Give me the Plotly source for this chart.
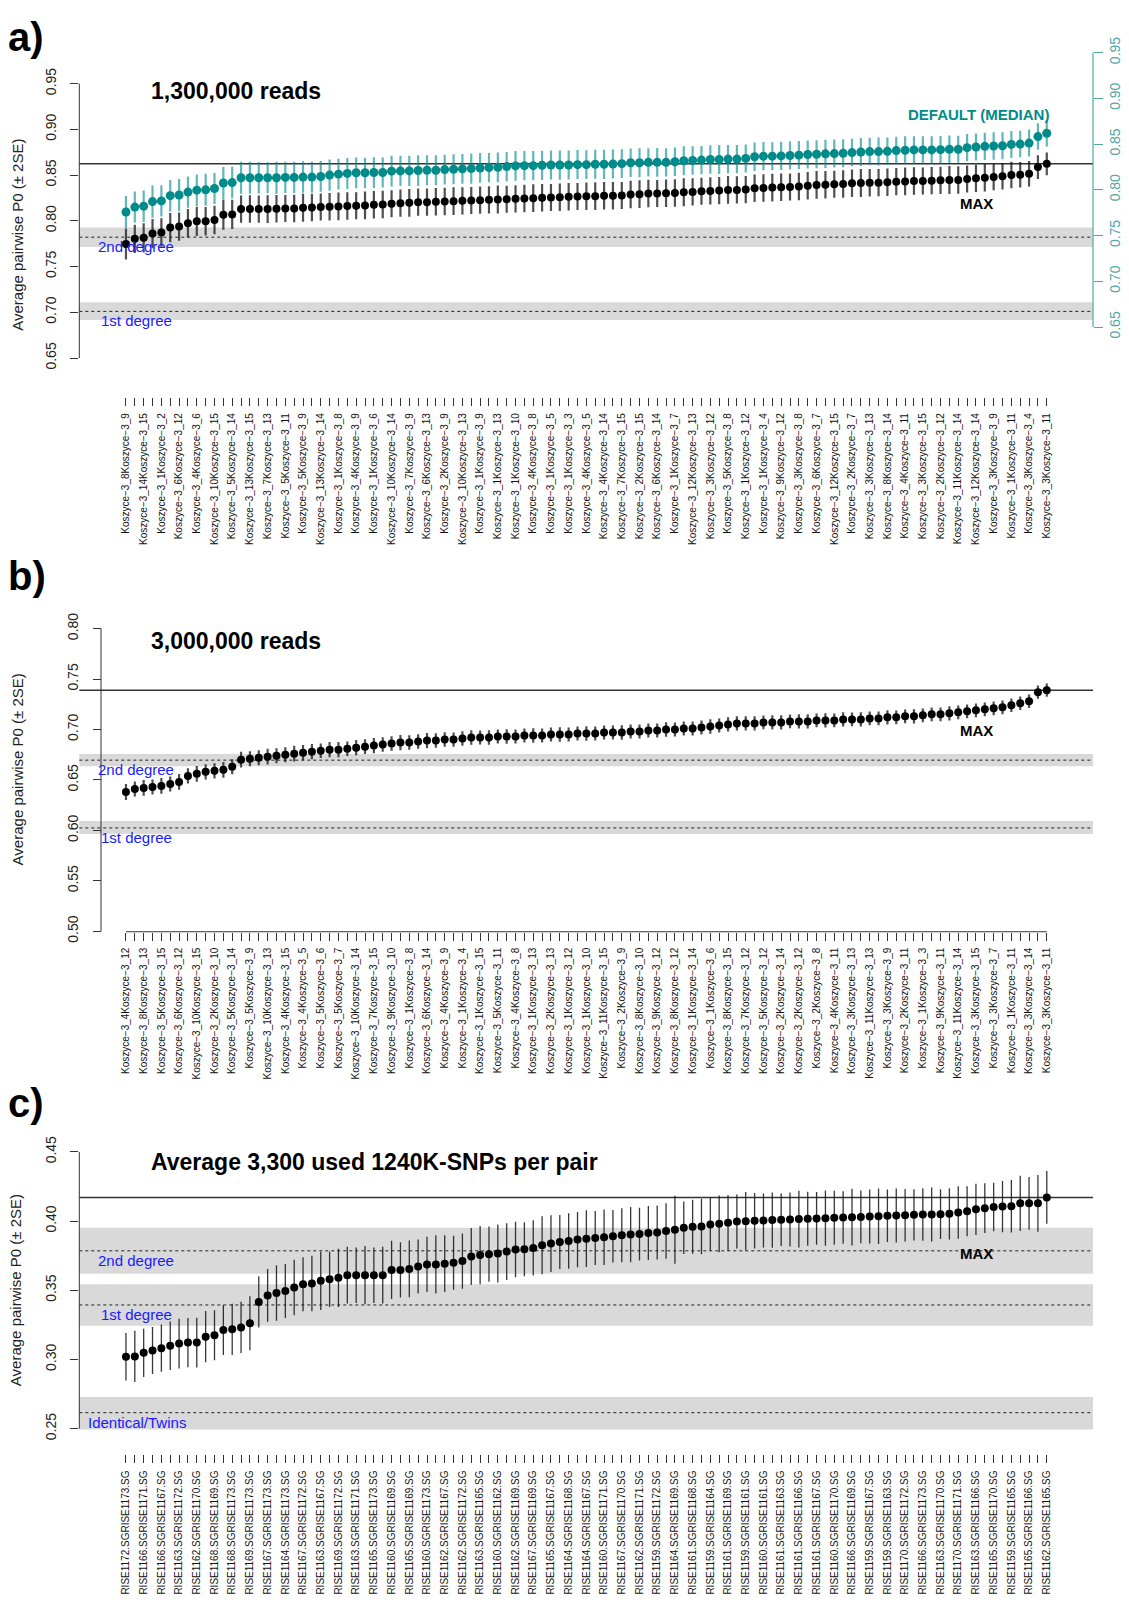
import plotly.graph_objects as go

W, H = 1129, 1604
FONT = "Liberation Sans, Arial, Helvetica, sans-serif"
TEAL = "#008b8b"
TEAL_BAR = "rgba(0,139,139,0.62)"
TEAL_AX = "#52a6a6"
BLACK_BAR = "rgba(20,20,20,0.75)"
BAND = "#d9d9d9"
BLUE = "#1a1aff"
AX = "#333333"

# ---------------- Panel a: 1,300,000 reads ----------------
a_pairs = [(8, 9), (14, 15), (1, 2), (6, 12), (4, 6), (10, 15), (5, 14), (13, 15), (7, 13), (5, 11),
           (5, 9), (13, 14), (1, 8), (4, 9), (1, 6), (10, 14), (7, 9), (6, 13), (2, 9), (10, 13),
           (1, 9), (1, 13), (1, 10), (4, 8), (1, 5), (1, 3), (4, 5), (4, 14), (7, 15), (2, 15),
           (6, 14), (1, 7), (12, 13), (3, 12), (5, 8), (1, 12), (1, 4), (9, 12), (3, 8), (6, 7),
           (12, 15), (2, 7), (3, 13), (8, 14), (4, 11), (3, 15), (2, 12), (11, 14), (12, 14), (3, 9),
           (1, 11), (3, 4), (3, 11)]
a_labels = ["Koszyce−3_%dKoszyce−3_%d" % p for p in a_pairs]

a_max = [0.7746, 0.7803, 0.7814, 0.7861, 0.7872, 0.7926, 0.7937, 0.7973, 0.7995, 0.7995,
         0.8009, 0.8067, 0.8070, 0.8128, 0.8128, 0.8128, 0.8128, 0.8132, 0.8135, 0.8135,
         0.8143, 0.8146, 0.8150, 0.8153, 0.8157, 0.8161, 0.8164, 0.8168, 0.8175, 0.8179,
         0.8186, 0.8193, 0.8197, 0.8204, 0.8204, 0.8208, 0.8211, 0.8215, 0.8218, 0.8222,
         0.8226, 0.8229, 0.8233, 0.8236, 0.8240, 0.8244, 0.8247, 0.8251, 0.8254, 0.8258,
         0.8262, 0.8265, 0.8269, 0.8269, 0.8273, 0.8273, 0.8276, 0.8287, 0.8291, 0.8298,
         0.8298, 0.8301, 0.8305, 0.8312, 0.8316, 0.8323, 0.8327, 0.8330, 0.8338, 0.8338,
         0.8341, 0.8356, 0.8359, 0.8363, 0.8366, 0.8370, 0.8374, 0.8384, 0.8392, 0.8395,
         0.8399, 0.8403, 0.8410, 0.8413, 0.8417, 0.8417, 0.8421, 0.8428, 0.8431, 0.8435,
         0.8435, 0.8439, 0.8442, 0.8446, 0.8446, 0.8457, 0.8464, 0.8471, 0.8478, 0.8486,
         0.8500, 0.8504, 0.8514, 0.8587, 0.8623]
a_max_err = [0.0170, 0.0155, 0.0160, 0.0160, 0.0155, 0.0160, 0.0155, 0.0155, 0.0160, 0.0155,
             0.0155, 0.0165, 0.0160, 0.0148, 0.0150, 0.0148, 0.0152, 0.0150, 0.0148, 0.0150,
             0.0152, 0.0150, 0.0148, 0.0150, 0.0152, 0.0150, 0.0148, 0.0152, 0.0150, 0.0150,
             0.0148, 0.0150, 0.0152, 0.0150, 0.0148, 0.0150, 0.0150, 0.0152, 0.0150, 0.0148,
             0.0150, 0.0150, 0.0152, 0.0148, 0.0150, 0.0150, 0.0152, 0.0150, 0.0148, 0.0150,
             0.0150, 0.0148, 0.0150, 0.0152, 0.0150, 0.0150, 0.0148, 0.0150, 0.0152, 0.0150,
             0.0148, 0.0150, 0.0150, 0.0152, 0.0150, 0.0148, 0.0150, 0.0150, 0.0152, 0.0150,
             0.0148, 0.0150, 0.0150, 0.0152, 0.0150, 0.0148, 0.0150, 0.0150, 0.0152, 0.0150,
             0.0148, 0.0150, 0.0150, 0.0152, 0.0150, 0.0148, 0.0150, 0.0150, 0.0152, 0.0150,
             0.0148, 0.0150, 0.0150, 0.0152, 0.0150, 0.0148, 0.0150, 0.0150, 0.0145, 0.0145,
             0.0145, 0.0140, 0.0140, 0.0130, 0.0125]
# DEFAULT (MEDIAN) series, in units of the right-hand (teal) axis
a_med = [0.7757, 0.7811, 0.7821, 0.7871, 0.7879, 0.7936, 0.7943, 0.7975, 0.7996, 0.8000,
         0.8014, 0.8075, 0.8079, 0.8132, 0.8132, 0.8132, 0.8132, 0.8132, 0.8136, 0.8136,
         0.8139, 0.8139, 0.8146, 0.8161, 0.8171, 0.8179, 0.8186, 0.8186, 0.8189, 0.8189,
         0.8204, 0.8207, 0.8207, 0.8211, 0.8214, 0.8214, 0.8221, 0.8225, 0.8229, 0.8232,
         0.8239, 0.8243, 0.8246, 0.8254, 0.8261, 0.8264, 0.8264, 0.8268, 0.8271, 0.8271,
         0.8271, 0.8275, 0.8275, 0.8279, 0.8279, 0.8282, 0.8286, 0.8296, 0.8296, 0.8300,
         0.8300, 0.8300, 0.8307, 0.8318, 0.8321, 0.8325, 0.8332, 0.8332, 0.8336, 0.8336,
         0.8343, 0.8361, 0.8368, 0.8368, 0.8371, 0.8375, 0.8379, 0.8386, 0.8389, 0.8393,
         0.8396, 0.8400, 0.8407, 0.8414, 0.8418, 0.8418, 0.8421, 0.8429, 0.8432, 0.8436,
         0.8436, 0.8436, 0.8439, 0.8443, 0.8443, 0.8461, 0.8468, 0.8475, 0.8479, 0.8482,
         0.8496, 0.8500, 0.8511, 0.8582, 0.8618]
a_med_err = [0.0175, 0.0170, 0.0172, 0.0175, 0.0170, 0.0172, 0.0175, 0.0170, 0.0172, 0.0175,
             0.0170, 0.0175, 0.0172, 0.0175, 0.0175, 0.0172, 0.0170, 0.0175, 0.0172, 0.0170,
             0.0172, 0.0170, 0.0168, 0.0170, 0.0168, 0.0170, 0.0168, 0.0165, 0.0168, 0.0165,
             0.0168, 0.0165, 0.0165, 0.0168, 0.0165, 0.0165, 0.0163, 0.0165, 0.0163, 0.0165,
             0.0163, 0.0160, 0.0163, 0.0160, 0.0163, 0.0160, 0.0160, 0.0160, 0.0158, 0.0160,
             0.0158, 0.0160, 0.0158, 0.0158, 0.0160, 0.0158, 0.0158, 0.0155, 0.0158, 0.0155,
             0.0158, 0.0155, 0.0155, 0.0158, 0.0155, 0.0155, 0.0155, 0.0158, 0.0155, 0.0155,
             0.0153, 0.0155, 0.0155, 0.0153, 0.0155, 0.0153, 0.0155, 0.0153, 0.0153, 0.0155,
             0.0153, 0.0153, 0.0150, 0.0153, 0.0150, 0.0153, 0.0150, 0.0150, 0.0153, 0.0150,
             0.0150, 0.0150, 0.0148, 0.0150, 0.0148, 0.0150, 0.0148, 0.0148, 0.0150, 0.0148,
             0.0148, 0.0145, 0.0148, 0.0145, 0.0145]
a_yticks = [0.65, 0.70, 0.75, 0.80, 0.85, 0.90, 0.95]
a_y2ticks = [0.65, 0.70, 0.75, 0.80, 0.85, 0.90, 0.95]
a_band_names = ["2nd degree", "1st degree"]
a_band_lo = [0.7713, 0.6915]
a_band_hi = [0.7926, 0.7110]
a_band_mid = [0.7821, 0.7010]

# ---------------- Panel b: 3,000,000 reads ----------------
b_pairs = [(4, 12), (8, 13), (5, 15), (6, 12), (10, 15), (2, 10), (5, 14), (5, 9), (10, 13), (4, 15),
           (4, 5), (5, 6), (5, 7), (10, 14), (7, 15), (9, 10), (1, 8), (6, 14), (4, 9), (1, 4),
           (1, 15), (5, 11), (4, 8), (1, 13), (2, 13), (1, 12), (1, 10), (11, 15), (2, 9), (8, 10),
           (9, 12), (8, 12), (1, 14), (1, 6), (8, 15), (7, 12), (5, 12), (2, 14), (2, 12), (2, 8),
           (4, 11), (3, 13), (11, 13), (3, 9), (2, 11), (1, 3), (9, 11), (11, 14), (3, 15), (3, 7),
           (1, 11), (3, 14), (3, 11)]
b_labels = ["Koszyce−3_%dKoszyce−3_%d" % p for p in b_pairs]
b_vals = [0.638, 0.641, 0.642, 0.643, 0.644, 0.646, 0.648, 0.654, 0.656, 0.658,
          0.659, 0.660, 0.663, 0.670, 0.671, 0.672, 0.673, 0.674, 0.675, 0.676,
          0.677, 0.678, 0.679, 0.680, 0.680, 0.681, 0.682, 0.683, 0.684, 0.685,
          0.686, 0.687, 0.687, 0.688, 0.689, 0.689, 0.690, 0.690, 0.691, 0.692,
          0.692, 0.692, 0.693, 0.693, 0.693, 0.694, 0.694, 0.694, 0.695, 0.695,
          0.695, 0.696, 0.696, 0.696, 0.697, 0.697, 0.697, 0.698, 0.698, 0.699,
          0.699, 0.700, 0.700, 0.701, 0.701, 0.702, 0.703, 0.704, 0.705, 0.706,
          0.706, 0.706, 0.707, 0.707, 0.707, 0.708, 0.708, 0.708, 0.709, 0.709,
          0.709, 0.710, 0.710, 0.710, 0.711, 0.711, 0.712, 0.712, 0.713, 0.713,
          0.714, 0.715, 0.715, 0.716, 0.717, 0.718, 0.719, 0.720, 0.721, 0.722,
          0.724, 0.726, 0.728, 0.737, 0.739]
b_err = [0.0080, 0.0075, 0.0078, 0.0075, 0.0078, 0.0075, 0.0078, 0.0075, 0.0078, 0.0075,
         0.0075, 0.0078, 0.0075, 0.0078, 0.0075, 0.0075, 0.0078, 0.0075, 0.0075, 0.0078,
         0.0075, 0.0075, 0.0072, 0.0075, 0.0075, 0.0072, 0.0075, 0.0072, 0.0075, 0.0072,
         0.0072, 0.0075, 0.0072, 0.0072, 0.0075, 0.0072, 0.0072, 0.0070, 0.0072, 0.0072,
         0.0070, 0.0072, 0.0070, 0.0072, 0.0070, 0.0070, 0.0072, 0.0070, 0.0070, 0.0072,
         0.0070, 0.0070, 0.0072, 0.0070, 0.0070, 0.0070, 0.0072, 0.0070, 0.0070, 0.0070,
         0.0070, 0.0072, 0.0070, 0.0070, 0.0070, 0.0070, 0.0072, 0.0070, 0.0070, 0.0070,
         0.0070, 0.0070, 0.0068, 0.0070, 0.0070, 0.0068, 0.0070, 0.0070, 0.0068, 0.0070,
         0.0068, 0.0070, 0.0068, 0.0070, 0.0068, 0.0068, 0.0070, 0.0068, 0.0068, 0.0070,
         0.0068, 0.0068, 0.0068, 0.0070, 0.0068, 0.0068, 0.0068, 0.0068, 0.0068, 0.0068,
         0.0068, 0.0066, 0.0066, 0.0066, 0.0065]
b_yticks = [0.50, 0.55, 0.60, 0.65, 0.70, 0.75, 0.80]
b_band_names = ["2nd degree", "1st degree"]
b_band_lo = [0.6636, 0.5964]
b_band_hi = [0.6756, 0.6094]
b_band_mid = [0.6696, 0.6024]

# ---------------- Panel c: 1240K SNPs ----------------
c_pairs = [(1172, 1173), (1166, 1171), (1166, 1167), (1163, 1172), (1162, 1170), (1168, 1169),
           (1168, 1173), (1169, 1173), (1167, 1173), (1164, 1173), (1167, 1172), (1163, 1167),
           (1169, 1172), (1163, 1171), (1165, 1173), (1160, 1169), (1165, 1169), (1160, 1173),
           (1162, 1167), (1162, 1172), (1163, 1165), (1160, 1162), (1162, 1169), (1167, 1169),
           (1165, 1167), (1164, 1168), (1164, 1167), (1160, 1171), (1167, 1170), (1162, 1171),
           (1159, 1172), (1164, 1169), (1161, 1168), (1159, 1164), (1161, 1169), (1159, 1161),
           (1160, 1161), (1161, 1163), (1161, 1166), (1161, 1167), (1160, 1170), (1166, 1169),
           (1159, 1167), (1159, 1163), (1170, 1172), (1166, 1173), (1163, 1170), (1170, 1171),
           (1163, 1166), (1165, 1170), (1159, 1165), (1165, 1166), (1162, 1165)]
c_labels = ["RISE%d.SGRISE%d.SG" % p for p in c_pairs]
c_vals = [0.3020, 0.3022, 0.3048, 0.3065, 0.3082, 0.3099, 0.3115, 0.3122, 0.3122, 0.3165,
          0.3175, 0.3213, 0.3218, 0.3232, 0.3261, 0.3416, 0.3463, 0.3480, 0.3494, 0.3520,
          0.3544, 0.3549, 0.3568, 0.3580, 0.3590, 0.3609, 0.3609, 0.3609, 0.3609, 0.3609,
          0.3647, 0.3647, 0.3654, 0.3671, 0.3687, 0.3687, 0.3692, 0.3699, 0.3711, 0.3744,
          0.3754, 0.3761, 0.3766, 0.3780, 0.3795, 0.3797, 0.3806, 0.3825, 0.3837, 0.3849,
          0.3856, 0.3866, 0.3873, 0.3878, 0.3883, 0.3890, 0.3897, 0.3902, 0.3906, 0.3914,
          0.3918, 0.3928, 0.3937, 0.3952, 0.3959, 0.3961, 0.3976, 0.3980, 0.3988, 0.3997,
          0.3999, 0.4002, 0.4004, 0.4007, 0.4009, 0.4011, 0.4014, 0.4016, 0.4019, 0.4021,
          0.4023, 0.4026, 0.4028, 0.4030, 0.4033, 0.4035, 0.4038, 0.4040, 0.4042, 0.4045,
          0.4047, 0.4047, 0.4050, 0.4052, 0.4062, 0.4071, 0.4085, 0.4093, 0.4102, 0.4105,
          0.4107, 0.4128, 0.4128, 0.4128, 0.4171]
c_err = [0.0172, 0.0185, 0.0175, 0.0170, 0.0170, 0.0175, 0.0180, 0.0178, 0.0180, 0.0185,
         0.0180, 0.0180, 0.0185, 0.0185, 0.0195, 0.0185, 0.0190, 0.0200, 0.0195, 0.0200,
         0.0195, 0.0200, 0.0210, 0.0200, 0.0210, 0.0205, 0.0200, 0.0210, 0.0200, 0.0205,
         0.0210, 0.0200, 0.0205, 0.0195, 0.0200, 0.0210, 0.0205, 0.0195, 0.0200, 0.0205,
         0.0210, 0.0200, 0.0210, 0.0205, 0.0200, 0.0195, 0.0200, 0.0210, 0.0205, 0.0195,
         0.0200, 0.0200, 0.0205, 0.0195, 0.0200, 0.0190, 0.0195, 0.0200, 0.0190, 0.0195,
         0.0195, 0.0200, 0.0245, 0.0190, 0.0195, 0.0200, 0.0190, 0.0205, 0.0200, 0.0195,
         0.0210, 0.0200, 0.0195, 0.0200, 0.0190, 0.0195, 0.0205, 0.0195, 0.0190, 0.0200,
         0.0195, 0.0190, 0.0205, 0.0190, 0.0195, 0.0200, 0.0190, 0.0195, 0.0190, 0.0185,
         0.0190, 0.0195, 0.0180, 0.0185, 0.0190, 0.0180, 0.0185, 0.0180, 0.0175, 0.0185,
         0.0190, 0.0200, 0.0190, 0.0205, 0.0190]
c_yticks = [0.25, 0.30, 0.35, 0.40, 0.45]
c_band_names = ["2nd degree", "1st degree", "Identical/Twins"]
c_band_lo = [0.3620, 0.3244, 0.2495]
c_band_hi = [0.3952, 0.3544, 0.2729]
c_band_mid = [0.3785, 0.3394, 0.2616]

for arr in (a_max, a_max_err, a_med, a_med_err, b_vals, b_err, c_vals, c_err):
    assert len(arr) == 105, len(arr)

N = len(a_max)
xs = list(range(1, N + 1))


def ticktext(labels):
    return [labels[i // 2] if i % 2 == 0 else "" for i in range(N)]


# ---------------- layout geometry (window pixels) ----------------
# the page body adds an 8px margin around the figure div; compensate for it
OX, OY = 8, 8
XL, XR = 79.3, 1093.0
X_RANGE = [-4.27, 110.22]
B_YAXIS_X = 101.0

SA, SB, SC = -3.0, 5.0, 6.0   # per-panel vertical fine adjustments


def py(p):
    return 1 - (p - OY) / H


def px(p):
    return (p - OX) / W


A_TOP, A_BOT = 40 + SA, 399 + SA
B_TOP, B_BOT = 590 + SB, 931 + SB
C_TOP, C_BOT = 1130 + SC, 1458 + SC


def rng(top, bot, ref_v, ref_p, ppu):
    return [ref_v - (bot - ref_p) / ppu, ref_v + (ref_p - top) / ppu]


a_rng = rng(A_TOP, A_BOT, 0.95, 82.3 + SA, 924.0)
a_rng2 = rng(A_TOP, A_BOT, 0.95, 51.0 + SA, 924.0)
b_rng = rng(B_TOP, B_BOT, 0.80, 624.8 + SB, 1019.0)
c_rng = rng(C_TOP, C_BOT, 0.45, 1152.3 + SC, 1398.5)

fig = go.Figure()

err_common = dict(type="data", symmetric=True, width=0, thickness=2.2, visible=True)

fig.add_trace(go.Scatter(x=xs, y=a_max, mode="markers", xaxis="x", yaxis="y",
                         marker=dict(color="black", size=8),
                         error_y=dict(array=a_max_err, color=BLACK_BAR, **err_common),
                         showlegend=False, hoverinfo="skip"))
fig.add_trace(go.Scatter(x=xs, y=a_med, mode="markers", xaxis="x", yaxis="y4",
                         marker=dict(color=TEAL, size=9),
                         error_y=dict(array=a_med_err, color=TEAL_BAR, **err_common),
                         showlegend=False, hoverinfo="skip"))
fig.add_trace(go.Scatter(x=xs, y=b_vals, mode="markers", xaxis="x2", yaxis="y2",
                         marker=dict(color="black", size=8),
                         error_y=dict(array=b_err, color=BLACK_BAR, **err_common),
                         showlegend=False, hoverinfo="skip"))
fig.add_trace(go.Scatter(x=xs, y=c_vals, mode="markers", xaxis="x3", yaxis="y3",
                         marker=dict(color="black", size=8),
                         error_y=dict(array=c_err, color="rgba(20,20,20,0.85)", type="data",
                                      symmetric=True, width=0, thickness=1.3, visible=True),
                         showlegend=False, hoverinfo="skip"))

xaxis_common = dict(range=X_RANGE, domain=[px(XL), px(XR)], showgrid=False, zeroline=False,
                    showline=False, ticks="outside", ticklen=8, tickwidth=1, tickcolor=AX,
                    tickvals=xs, tickangle=-90, tickfont=dict(family=FONT, size=10, color="#111"),
                    ticklabelstandoff=3, fixedrange=True)
yaxis_common = dict(showgrid=False, zeroline=False, showline=False, ticks="outside", ticklen=8,
                    tickwidth=1, tickcolor=AX, tickangle=-90, ticklabelstandoff=9,
                    tickfont=dict(family=FONT, size=14, color="#222"), fixedrange=True)

fig.update_layout(
    width=W, height=H, margin=dict(l=0, r=0, t=0, b=0, pad=0),
    paper_bgcolor="white", plot_bgcolor="white", font=dict(family=FONT),
    xaxis=dict(anchor="y", ticktext=ticktext(a_labels), **xaxis_common),
    xaxis2=dict(anchor="y2", ticktext=ticktext(b_labels), **xaxis_common),
    xaxis3=dict(anchor="y3", ticktext=ticktext(c_labels), **xaxis_common),
    yaxis=dict(anchor="x", domain=[py(A_BOT), py(A_TOP)], range=a_rng, tickvals=a_yticks,
               ticktext=["%.2f" % v for v in a_yticks], **yaxis_common),
    yaxis2=dict(anchor="free", position=px(B_YAXIS_X), domain=[py(B_BOT), py(B_TOP)],
                range=b_rng, tickvals=b_yticks,
                ticktext=["%.2f" % v for v in b_yticks], **yaxis_common),
    yaxis3=dict(anchor="x3", domain=[py(C_BOT), py(C_TOP)], range=c_rng, tickvals=c_yticks,
                ticktext=["%.2f" % v for v in c_yticks], **yaxis_common),
    yaxis4=dict(anchor="x", overlaying="y", side="right", range=a_rng2, tickvals=a_y2ticks,
                ticktext=["%.2f" % v for v in a_y2ticks], showgrid=False, zeroline=False,
                showline=False, ticks="outside", ticklen=9, tickwidth=1.2, tickcolor=TEAL_AX,
                tickangle=-90, tickfont=dict(family=FONT, size=14, color=TEAL_AX), fixedrange=True),
)

shapes = []
annotations = []


def panel(xa, ya, vals, ytick, names, lo, hi, mid, label_x, yaxis_x=None, xline=False):
    xd = xa + " domain"
    yd = ya + " domain"
    for i in range(len(names)):
        shapes.append(dict(type="rect", xref=xd, yref=ya, x0=0, x1=1, y0=lo[i], y1=hi[i],
                           fillcolor=BAND, line=dict(width=0), layer="below"))
        shapes.append(dict(type="line", xref=xd, yref=ya, x0=0, x1=1, y0=mid[i], y1=mid[i],
                           line=dict(color="#222", width=1, dash="3px,3px"), layer="below"))
        annotations.append(dict(text=names[i], xref="paper", yref=ya, x=px(label_x[i]),
                                y=mid[i], xanchor="left", yanchor="top", yshift=1, showarrow=False,
                                font=dict(family=FONT, size=15, color=BLUE)))
    m = max(vals)
    shapes.append(dict(type="line", xref=xd, yref=ya, x0=0, x1=1, y0=m, y1=m,
                       line=dict(color="#333", width=1.5), layer="below"))
    # R-style axis line spanning first to last tick
    if yaxis_x is None:
        shapes.append(dict(type="line", xref=xd, yref=ya, x0=0, x1=0, y0=min(ytick),
                           y1=max(ytick), line=dict(color=AX, width=1)))
    else:
        shapes.append(dict(type="line", xref="paper", yref=ya, x0=px(yaxis_x), x1=px(yaxis_x),
                           y0=min(ytick), y1=max(ytick), line=dict(color=AX, width=1)))
    if xline:
        shapes.append(dict(type="line", xref=xa, yref=yd, x0=1, x1=N, y0=0, y1=0,
                           line=dict(color=AX, width=1)))
    return m


a_m = panel("x", "y", a_max, a_yticks, a_band_names, a_band_lo, a_band_hi, a_band_mid, [96, 99])
b_m = panel("x2", "y2", b_vals, b_yticks, b_band_names, b_band_lo, b_band_hi, b_band_mid, [96, 99],
            yaxis_x=B_YAXIS_X, xline=True)
c_m = panel("x3", "y3", c_vals, c_yticks, c_band_names, c_band_lo, c_band_hi, c_band_mid, [96, 99, 86])

# teal right axis line
shapes.append(dict(type="line", xref="x domain", yref="y4", x0=1, x1=1, y0=min(a_y2ticks),
                   y1=max(a_y2ticks), line=dict(color=TEAL_AX, width=1.2)))

# MAX labels
for ya, m, sh in (("y", a_m, -40), ("y2", b_m, -40), ("y3", c_m, -56)):
    annotations.append(dict(text="<b>MAX</b>", xref="paper", yref=ya, x=px(976), y=m, yshift=sh,
                            xanchor="center", yanchor="middle", showarrow=False,
                            font=dict(family=FONT, size=15, color="black")))

annotations.append(dict(text="<b>DEFAULT (MEDIAN)</b>", xref="paper", yref="y4", x=px(1051),
                        y=max(a_med), yshift=19, xanchor="right", yanchor="middle",
                        showarrow=False, font=dict(family=FONT, size=15, color=TEAL)))

# panel letters
annotations.append(dict(text="<b>a)</b>", xref="paper", yref="paper", x=px(6), y=1.0,
                        xanchor="left", yanchor="top", showarrow=False,
                        font=dict(family=FONT, size=40, color="black")))
for txt, ypix in (("b)", 572 + SB), ("c)", 1103 + SC)):
    annotations.append(dict(text="<b>%s</b>" % txt, xref="paper", yref="paper", x=px(6),
                            y=py(ypix), xanchor="left", yanchor="middle", showarrow=False,
                            font=dict(family=FONT, size=40, color="black")))
for txt, ypix in (("1,300,000 reads", 90 + SA), ("3,000,000 reads", 637 + SB),
                  ("Average 3,300 used 1240K-SNPs per pair", 1162.7 + SC)):
    annotations.append(dict(text="<b>%s</b>" % txt, xref="paper", yref="paper", x=px(149),
                            y=py(ypix), xanchor="left", yanchor="middle", showarrow=False,
                            font=dict(family=FONT, size=23, color="black")))
for ypix, xpix in ((235 + SA, 18), (767 + SB, 17), (1292 + SC, 15)):
    annotations.append(dict(text="Average pairwise P0 (± 2SE)", xref="paper", yref="paper",
                            x=px(xpix), y=py(ypix), xanchor="center", yanchor="middle",
                            textangle=-90, showarrow=False,
                            font=dict(family=FONT, size=15, color="#222")))

fig.update_layout(shapes=shapes, annotations=annotations)
fig.write_html("out.html")
